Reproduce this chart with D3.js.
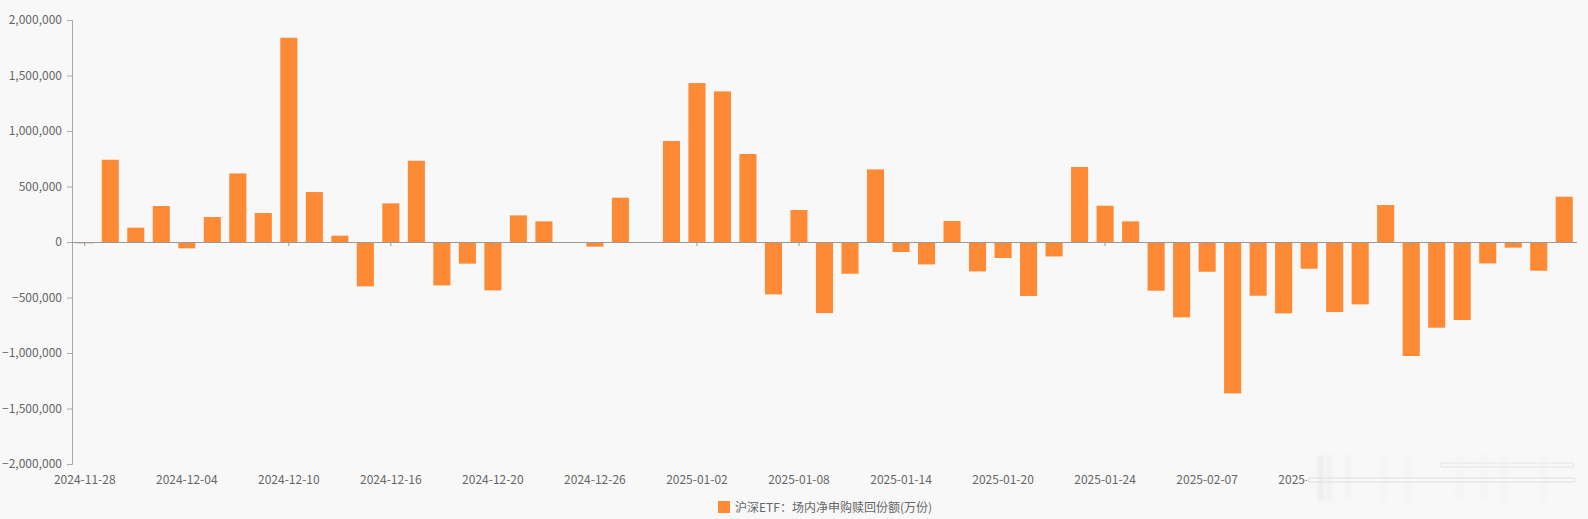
<!DOCTYPE html>
<html><head><meta charset="utf-8">
<script src="https://cdn.jsdelivr.net/npm/d3@7/dist/d3.min.js"></script>
<style>
html,body{margin:0;padding:0;background:#f8f8f8;}
svg{display:block;}
text{font-family:"Noto Sans CJK SC","Noto Sans",sans-serif;}
</style></head>
<body><svg id="c" width="1588" height="519"></svg>
<script>
const dates = ["2024-11-28","2024-11-29","2024-12-02","2024-12-03","2024-12-04","2024-12-05","2024-12-06","2024-12-09","2024-12-10","2024-12-11","2024-12-12","2024-12-13","2024-12-16","2024-12-17","2024-12-18","2024-12-19","2024-12-20","2024-12-23","2024-12-24","2024-12-25","2024-12-26","2024-12-27","2024-12-30","2024-12-31","2025-01-02","2025-01-03","2025-01-06","2025-01-07","2025-01-08","2025-01-09","2025-01-10","2025-01-13","2025-01-14","2025-01-15","2025-01-16","2025-01-17","2025-01-20","2025-01-21","2025-01-22","2025-01-23","2025-01-24","2025-01-27","2025-02-05","2025-02-06","2025-02-07","2025-02-10","2025-02-11","2025-02-12","2025-02-13","2025-02-14","2025-02-17","2025-02-18","2025-02-19","2025-02-20","2025-02-21","2025-02-24","2025-02-25","2025-02-26","2025-02-27"];
const values = [-12000,741000,129000,324000,-57000,225000,618000,261000,1840000,450000,57000,-400000,348000,732000,-391000,-195000,-436000,240000,186000,0,-42000,399000,0,910000,1432000,1357000,793000,-472000,288000,-640000,-286000,654000,-90000,-202000,189000,-265000,-144000,-486000,-130000,676000,327000,186000,-439000,-679000,-268000,-1364000,-484000,-643000,-241000,-631000,-562000,333000,-1027000,-772000,-703000,-193000,-51000,-259000,408000];
const yTicks = [-2000000,-1500000,-1000000,-500000,0,500000,1000000,1500000,2000000];
const seriesName = "沪深ETF：场内净申购赎回份额(万份)";
const barColor = "#ff8a35";

(function(){
const svg = d3.select("#c");
const L = 72, R = 1577, T = 20, B = 464;
const x = d3.scaleBand().domain(dates).range([L, R]).paddingInner(0.33).paddingOuter(0.165);
const y = d3.scaleLinear().domain([-2000000, 2000000]).range([B, T]);
const fmt = d3.format(",");

// y axis
const ya = svg.append("g").attr("transform", `translate(${L},0)`)
  .call(d3.axisLeft(y).tickValues(yTicks).tickFormat(fmt).tickSize(5).tickPadding(5));
ya.select(".domain").attr("stroke", "#aaa");
ya.selectAll(".tick line").attr("stroke", "#aaa");
ya.selectAll(".tick text").attr("fill", "#666").style("font-size", "12px");

// bars
svg.append("g").selectAll("rect").data(values).join("rect")
  .attr("x", (d, i) => x(dates[i]))
  .attr("width", x.bandwidth())
  .attr("y", d => y(Math.max(0, d)))
  .attr("height", d => Math.abs(y(d) - y(0)))
  .attr("fill", barColor);

// x axis line at zero
const labelDates = dates.filter((d, i) => i % 4 === 0);
const xa = svg.append("g").attr("transform", `translate(0,${y(0)})`)
  .call(d3.axisBottom(x).tickValues(labelDates).tickSize(4).tickFormat(""));
xa.select(".domain").attr("stroke", "#999").attr("d", `M${L},0.5H${R}`);
xa.selectAll(".tick line").attr("stroke", "#999");

// x labels at bottom
svg.append("g").selectAll("text").data(labelDates).join("text")
  .attr("x", d => x(d) + x.bandwidth() / 2)
  .attr("y", 484)
  .attr("text-anchor", "middle")
  .attr("fill", "#666")
  .style("font-size", "12px")
  .text(d => d);

// watermark overlay (as in reference)
const defs = svg.append("defs");
defs.append("filter").attr("id", "blur").append("feGaussianBlur").attr("stdDeviation", 1.5);
const wm = svg.append("g");
wm.append("rect").attr("x", 1307).attr("y", 450).attr("width", 272).attr("height", 55).attr("fill", "#f8f8f8");
const stripes = [[1318,6,0.10],[1327,5,0.07],[1346,5,0.04],[1380,6,0.025],[1405,6,0.025],[1455,8,0.03],[1480,8,0.025],[1500,8,0.025],[1540,6,0.025]];
const sg = wm.append("g").attr("filter", "url(#blur)");
stripes.forEach(s => sg.append("rect").attr("x", s[0]).attr("y", 455).attr("width", s[1]).attr("height", 46).attr("fill", "#888").attr("opacity", s[2]));
wm.append("rect").attr("x", 1308).attr("y", 478).attr("width", 268).attr("height", 4).attr("rx", 2).attr("fill", "none").attr("stroke", "#e0e0e0").attr("stroke-width", 1);
wm.append("rect").attr("x", 1440).attr("y", 463).attr("width", 134).attr("height", 4).attr("rx", 2).attr("fill", "none").attr("stroke", "#e6e6e6").attr("stroke-width", 1);

// legend
const lg = svg.append("g");
lg.append("rect").attr("x", 718).attr("y", 501).attr("width", 12).attr("height", 12).attr("fill", barColor);
lg.append("text").attr("x", 735).attr("y", 511.5).attr("fill", "#666").style("font-size", "12px").text(seriesName);
})();
</script></body></html>
